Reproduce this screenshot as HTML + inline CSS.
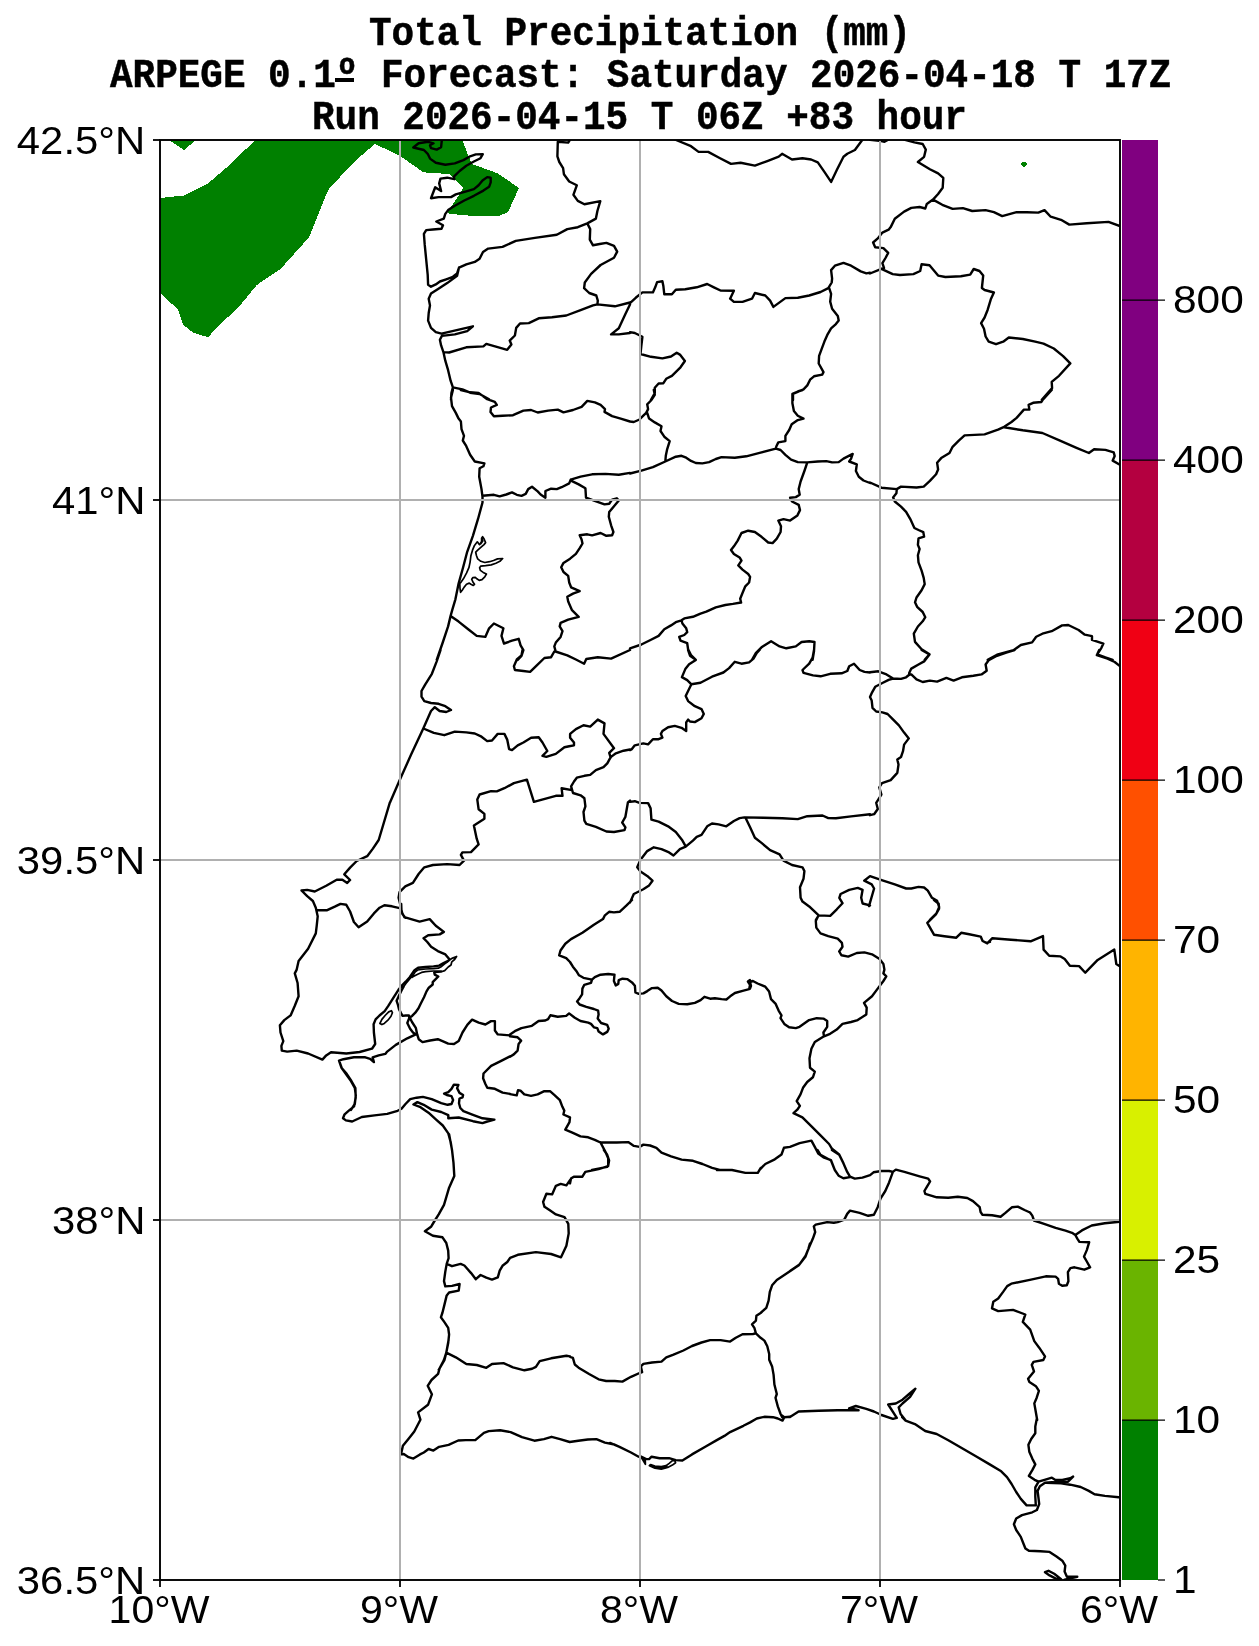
<!DOCTYPE html>
<html><head><meta charset="utf-8"><title>Total Precipitation (mm)</title>
<style>
html,body{margin:0;padding:0;background:#fff;}
body{width:1259px;height:1646px;position:relative;overflow:hidden;font-family:"Liberation Sans",sans-serif;color:#000;}
svg{position:absolute;left:0;top:0;}
.t{-webkit-text-stroke:0.45px #000;will-change:transform;position:absolute;white-space:nowrap;font-family:"Liberation Mono",monospace;font-weight:bold;transform-origin:0 0;line-height:1;}
.l{will-change:transform;position:absolute;white-space:nowrap;font-family:"Liberation Sans",sans-serif;transform-origin:0 0;line-height:1;}
</style></head><body>
<svg width="1259" height="1646" viewBox="0 0 1259 1646">
<defs><clipPath id="c"><rect x="160" y="140" width="960" height="1440"/></clipPath></defs>
<g clip-path="url(#c)">
<path d="M169.0,140.0 L184.0,150.0 L196.0,140.0Z M160.0,198.0 L184.0,195.5 L208.5,183.0 L226.0,168.0 L255.5,140.0 L462.4,140.0 L468.0,155.0 L472.0,164.0 L498.0,173.5 L519.0,188.0 L508.0,212.0 L498.7,216.0 L481.5,216.2 L462.4,215.2 L447.0,213.3 L463.4,188.0 L455.0,180.0 L449.0,174.0 L423.4,172.3 L399.5,155.5 L375.0,144.0 L358.4,158.0 L347.0,169.4 L329.0,189.0 L325.4,196.6 L309.0,237.3 L281.0,268.5 L256.8,285.0 L239.0,306.7 L220.0,324.5 L208.0,337.2 L193.0,332.6 L183.0,324.5 L178.0,309.7 L160.0,292.7Z M1020.5,164.0 L1022.0,162.5 L1023.5,161.5 L1025.5,162.0 L1027.5,164.0 L1025.5,166.0 L1023.5,167.0 L1022.0,166.0Z" fill="#008000" stroke="none" shape-rendering="crispEdges"/>
<path d="M441.9,139.5 L441.1,147.2 L436.7,149.6 L431.0,148.1 L430.0,145.3 L433.5,143.3 L428.1,141.8 L418.6,143.3 L413.3,147.5 L423.9,150.0 L427.7,153.8 L430.0,158.6 L435.8,162.8 L445.3,164.7 L454.8,163.4 L463.4,160.1 L470.1,156.3 L475.8,154.4 L482.8,154.2 L480.5,158.2 L473.9,161.5 L466.3,165.8 L459.6,171.0 L453.9,176.7 L454.4,179.2 L447.2,177.7 L440.5,178.6 L439.2,183.4 L441.1,191.0 L435.2,187.2 L431.0,198.2 L438.6,197.1 L451.0,197.1 L455.8,194.4 L466.3,191.4 L473.9,189.1 L478.6,185.3 L482.5,180.5 L487.2,177.1 L490.7,177.7 L490.7,182.4 L489.1,186.8 L483.4,190.6 L473.9,195.8 L464.3,200.5 L454.8,205.7 L448.1,210.1 L445.3,213.9 L443.8,218.6 L436.3,221.5 L443.0,225.3 L441.5,228.7 L432.9,229.5 L426.2,230.1 L423.9,233.9 L424.7,244.4 L426.2,259.6 L427.7,274.9 L428.1,284.8 L431.0,286.7 L435.8,284.4 L439.9,281.5 L446.2,279.3 L452.9,276.8 L457.1,273.4 L459.0,267.6 M459.0,267.6 L466.3,264.4 L474.8,261.9 L479.6,258.7 L483.0,252.0 L488.2,248.6 L502.5,246.9 L515.8,240.9 L534.9,237.9 L556.8,234.8 L567.3,229.1 L577.8,227.2 L587.3,223.4 L595.9,218.6 L597.4,211.0 L600.3,201.1 L584.4,204.3 L577.8,200.9 L573.4,194.8 L576.8,185.3 L569.2,181.5 L563.9,174.2 L563.1,168.1 L559.3,162.0 L557.4,156.3 L557.8,141.8 L568.2,142.6 L570.1,139.5 M459.0,267.6 L457.1,275.8 L447.2,283.1 L437.7,289.2 L431.0,293.6 L428.7,298.7 L430.0,305.4 L428.7,313.0 L428.1,320.6 L431.0,327.9 L435.8,332.1 L441.5,333.6 L456.7,330.2 L472.9,326.3 L467.2,331.1 L454.8,334.4 L441.9,335.9 L439.9,339.7 L441.1,345.4 L443.4,352.1 L445.3,360.7 L448.1,370.2 L450.6,380.7 L452.9,387.3 L451.4,393.1 L451.0,399.9 M587.3,223.4 L590.2,229.1 L589.8,239.6 L593.0,245.3 L599.7,244.0 L606.4,242.9 L614.0,245.9 L617.2,251.6 L614.0,257.7 L600.6,265.0 L591.1,273.9 L584.8,282.5 L584.1,288.2 L589.2,293.0 L596.3,295.5 L597.8,300.6 L597.4,304.4 M597.4,304.4 L593.0,305.4 L580.6,310.1 L566.3,315.5 L552.0,317.2 L538.7,318.3 L528.8,323.1 L520.0,323.5 L516.2,327.9 L514.9,335.5 L509.7,340.6 L511.4,344.5 L507.2,349.8 L496.8,346.9 L486.3,343.9 L483.4,346.4 L466.3,347.3 L449.1,352.5 L443.4,352.1 M597.4,304.4 L614.9,306.3 L630.0,302.5 M452.9,387.3 L462.4,389.3 L470.1,392.7 L479.6,394.0 L489.1,399.2 M630.0,304.4 L625.4,314.0 L618.8,328.3 L611.1,334.4 L618.8,334.4 L630.0,333.0 M674.8,139.5 L691.0,146.2 L698.6,151.9 L708.2,151.9 L719.6,158.0 L731.0,163.9 L740.6,162.8 L754.9,165.6 L767.3,161.1 L778.7,156.7 L782.1,153.8 L792.0,159.5 L802.5,158.2 L811.1,159.5 L817.8,162.4 L824.4,171.9 L831.1,181.9 L836.8,170.0 L843.5,156.7 L847.3,153.8 L854.9,150.0 L862.6,139.5 M630.0,303.1 L635.7,297.8 L642.4,292.4 L652.9,292.4 L655.2,287.3 L657.1,282.1 L662.4,281.2 L663.4,286.3 L664.3,294.3 L671.9,294.3 L675.8,289.7 L685.3,289.2 L696.7,287.3 L707.2,284.0 L713.9,287.3 L720.5,290.5 L733.9,290.7 L730.1,298.7 L733.9,301.9 L742.5,301.9 L752.0,298.7 L754.9,293.0 L765.3,295.5 L770.1,300.6 L773.4,306.9 L785.4,298.1 L797.8,297.8 L809.2,295.5 L820.6,292.0 L828.3,288.2 L831.7,282.5 L832.1,278.7 L831.1,270.1 L834.9,265.7 L843.5,262.9 L851.1,265.7 L860.7,271.4 L866.4,273.4 L870.0,272.6 M829.2,288.2 L831.1,293.9 L830.2,301.6 L832.1,308.8 L837.8,315.9 L838.7,320.6 L835.9,324.1 L831.1,328.3 L827.3,334.9 L824.4,341.6 L821.6,349.2 L819.1,355.9 L818.7,363.5 L823.5,372.1 L822.2,374.6 L814.0,376.3 L810.1,379.7 L807.3,385.4 L803.5,389.3 L793.0,394.0 L793.0,399.9 M630.0,332.1 L634.8,333.0 L642.4,336.8 L641.4,345.4 L640.5,354.0 L651.0,356.8 L662.4,358.4 L671.0,356.5 L676.7,352.7 L679.9,354.6 L684.9,361.0 L680.5,367.3 L671.9,375.9 L666.2,378.8 L663.4,383.2 L658.6,383.5 L654.8,387.7 L654.8,393.1 L651.0,399.9 M870.0,139.9 L879.3,140.7 L884.5,141.8 L888.6,139.5 M904.1,139.5 L914.4,142.4 L922.7,144.0 L925.8,149.6 L924.1,156.8 L917.9,162.0 L929.9,169.2 L938.1,173.4 L943.3,177.9 L942.7,187.8 L938.1,194.0 L933.0,199.6 L942.3,204.8 L952.6,208.9 L962.9,208.1 L972.2,211.0 L985.6,210.1 L993.9,212.2 L1002.2,216.1 L1016.6,212.2 L1026.9,212.2 L1038.3,212.6 L1044.5,210.1 L1050.7,216.7 L1061.0,219.8 L1069.3,224.6 L1086.8,223.3 L1108.5,221.9 L1119.9,226.0 M933.0,199.6 L926.8,203.9 L925.3,208.5 L919.6,207.0 L911.3,207.9 L904.1,211.6 L894.8,218.8 L890.7,227.1 L888.6,229.7 L882.4,232.6 L877.8,238.4 L873.1,242.5 L875.2,247.3 L883.4,248.1 L888.2,252.9 L885.5,258.0 L882.4,263.2 L884.0,268.0 L881.4,268.8 L870.0,273.5 M881.4,268.8 L892.7,274.1 L899.9,275.0 L913.4,274.1 L920.2,271.0 L921.6,264.2 L929.5,265.3 L938.1,275.6 L945.4,277.0 L960.9,276.2 L970.2,274.6 L973.7,269.0 L979.5,271.0 L983.2,275.6 L981.9,288.0 L984.6,290.0 L993.9,292.5 L990.8,299.3 L987.7,309.7 L984.6,317.5 L981.1,323.1 L984.0,328.7 L985.6,336.5 L988.7,341.7 L996.0,344.2 L1003.2,341.7 L1008.8,337.5 L1022.8,339.0 L1035.2,341.7 L1043.5,343.7 L1053.8,348.5 L1063.1,356.1 L1070.3,363.4 L1059.0,375.8 L1051.7,381.9 L1052.1,388.1 L1041.8,399.9 M452.9,390.0 L451.0,397.6 L452.0,406.2 L455.8,412.9 L458.6,418.6 L460.9,421.5 L461.5,429.1 L464.0,435.8 L462.8,440.5 L466.3,446.2 L470.1,454.8 L474.8,461.5 L484.4,463.4 L483.4,466.3 L479.6,468.2 L479.2,476.7 L481.5,489.1 L482.5,496.8 L482.5,502.5 L478.1,518.7 L472.9,535.8 L467.2,551.8 L463.0,567.7 L458.6,583.5 L455.4,599.3 L452.5,609.2 L450.6,615.9 L448.1,626.4 L442.4,643.5 L436.7,659.9 M460.9,390.0 L470.1,392.3 L478.6,392.9 L487.2,399.2 L494.8,401.8 L496.8,404.9 L491.0,407.5 L490.5,411.9 L493.9,416.3 L502.5,415.7 L513.0,415.2 L523.4,410.6 L531.1,410.0 L537.7,412.5 L548.2,410.6 L557.8,409.6 L563.5,412.3 L573.0,410.0 L581.6,406.8 L587.3,400.9 L594.9,402.4 L600.6,404.9 L605.0,409.1 L604.5,411.9 L612.1,416.1 L620.7,418.6 L630.0,421.5 M482.5,495.8 L493.9,494.8 L499.6,496.4 L506.3,494.5 L512.0,492.4 L516.8,494.8 L521.5,495.8 L525.7,493.9 L528.2,489.1 L532.0,486.8 L537.7,491.4 L540.6,494.5 L545.4,497.7 L545.4,491.0 L551.1,488.7 L556.8,489.1 L561.6,487.2 L569.2,483.4 L570.7,479.6 L580.6,476.7 L592.1,474.3 L605.4,473.9 L618.8,474.8 L630.0,472.9 M570.7,479.6 L572.0,481.1 L578.7,484.4 L585.4,488.2 L586.0,497.7 L594.0,500.6 L604.5,504.4 L609.2,503.8 L612.1,499.6 L616.8,498.3 L618.8,500.6 L614.0,506.3 L609.2,512.0 L608.8,516.8 L611.1,525.3 L613.4,532.0 L612.1,535.3 L606.4,535.8 L600.6,533.0 L592.1,535.3 L587.3,534.3 L579.7,535.3 L581.6,539.6 L582.5,543.5 L579.7,548.2 L575.9,553.9 L570.1,558.7 L563.5,562.9 L561.2,567.3 L563.5,572.0 L568.2,575.9 L569.2,582.5 L571.1,587.3 L579.7,591.1 L573.0,593.6 L567.3,596.8 L568.2,601.6 L572.0,610.2 L578.7,616.8 L568.2,619.7 L560.6,622.9 L559.7,626.4 L562.5,631.1 L560.6,636.9 L555.8,642.6 L554.3,646.4 L555.5,650.8 M450.6,615.9 L458.6,621.6 L468.2,629.2 L476.7,635.9 L485.3,636.9 L489.1,628.3 L493.9,623.5 L503.4,628.3 L501.5,635.9 L504.0,643.5 L512.0,640.7 L518.7,638.8 L520.6,645.4 L523.4,650.2 L521.5,655.9 L517.7,659.9 M653.8,390.0 L654.8,394.8 L651.0,400.5 L647.2,404.3 L648.1,409.1 L646.2,412.9 L643.3,415.7 L639.5,419.5 L633.8,422.0 L630.0,421.5 M647.2,412.9 L649.1,418.6 L654.8,422.4 L661.5,426.2 L660.5,431.0 L664.3,436.7 L669.7,441.1 L667.2,449.1 L665.8,455.8 L665.3,461.5 M630.0,473.5 L641.4,470.6 L652.9,467.2 L665.3,461.5 L675.8,456.7 L681.5,455.8 L686.2,457.7 L691.0,460.9 L695.8,463.0 L702.4,463.4 L709.1,462.1 L715.8,459.0 L721.5,457.1 L734.8,457.7 L746.3,456.3 L759.6,452.9 L775.8,448.7 L780.6,450.0 L785.4,454.8 L791.1,459.6 L797.8,462.1 L807.3,462.4 L817.8,461.5 L826.3,461.1 L832.1,462.4 L838.7,462.1 L843.5,458.6 L852.7,453.9 L851.1,458.6 L849.2,461.5 L856.8,464.3 L855.9,471.0 L858.8,476.7 L863.5,480.5 L870.0,483.0 M775.8,448.7 L776.4,446.2 L778.3,442.4 L785.4,441.1 L785.4,435.8 L789.2,430.0 L791.7,424.3 L797.8,420.1 L803.5,418.6 L797.8,415.7 L793.9,411.0 L792.4,403.3 L792.4,393.8 L797.8,391.5 L802.5,390.0 M807.3,462.4 L804.4,471.0 L800.6,481.5 L798.7,489.1 L799.7,494.8 L795.8,497.1 L790.1,497.7 L792.0,501.5 L798.7,504.9 L800.0,510.1 L797.4,515.4 L790.1,520.6 L783.5,519.2 L778.3,520.6 L781.0,526.3 L780.6,532.0 L776.8,538.7 L772.6,543.1 L768.2,542.5 L761.5,536.8 L754.9,532.0 L748.2,530.7 L741.5,533.0 L737.7,540.6 L733.9,546.3 L731.0,550.1 L733.9,553.9 L739.6,557.4 L741.5,560.6 L738.3,565.4 L742.5,569.6 L748.2,574.0 L750.1,576.8 L749.1,582.5 L745.3,586.3 L742.5,593.0 L740.2,598.7 L741.1,602.5 L732.9,603.9 L725.3,605.0 L715.8,607.3 L706.3,611.7 L700.5,613.6 L692.9,616.8 L684.3,618.4 L681.5,620.3 L675.8,622.2 L671.0,625.4 L664.3,629.2 L658.6,635.9 L651.0,639.7 L641.4,644.5 L630.0,648.3 M681.5,620.3 L682.4,623.5 L686.2,628.3 L687.2,632.1 L684.3,635.0 L679.2,636.9 L680.5,640.7 L687.2,643.2 L688.1,649.3 L691.0,655.0 L695.8,659.9 M752.0,659.9 L755.8,653.1 L761.5,647.3 L771.1,641.2 L779.6,646.4 L786.3,648.3 L795.8,646.4 L801.6,642.0 L809.2,641.2 L814.5,642.0 L814.0,651.2 L812.6,659.9 M1051.7,390.0 L1042.4,400.3 L1041.4,402.0 L1033.1,402.8 L1028.6,404.9 L1029.4,409.6 L1023.9,409.6 L1016.6,417.9 L1011.5,422.0 L1004.2,426.8 L998.0,429.7 L984.6,434.4 L964.6,435.4 L958.8,440.6 L952.6,446.8 L949.5,453.0 L941.2,458.1 L937.1,462.7 L938.1,469.5 L936.1,474.3 L929.9,480.9 L923.7,486.6 L916.5,487.5 L901.0,486.6 L896.8,489.1 L881.4,487.7 L870.0,482.5 M1004.2,427.2 L1022.8,430.3 L1042.4,433.0 L1060.0,440.6 L1076.5,447.8 L1088.9,453.0 L1094.1,449.3 L1105.4,449.9 L1113.7,452.4 L1114.7,456.1 L1112.7,460.6 L1119.9,464.8 M987.7,659.9 L997.0,654.7 L1013.5,650.2 L1020.8,645.0 L1032.1,642.4 L1036.2,636.8 L1042.4,633.7 L1051.7,631.2 L1062.1,625.4 L1068.3,625.0 L1078.6,630.0 L1084.8,634.7 L1092.0,636.2 L1092.0,639.9 L1103.4,643.6 L1101.3,648.1 L1097.2,654.3 L1105.4,657.4 L1112.7,659.9 M896.8,489.1 L896.4,493.3 L893.1,497.4 L894.8,501.5 L901.0,506.7 L906.1,511.8 L910.3,519.1 L914.4,528.0 L918.5,530.0 L923.3,532.1 L924.1,536.6 L918.5,538.3 L917.9,544.9 L919.6,549.0 L917.9,555.2 L918.5,562.4 L921.6,570.7 L923.7,577.9 L924.7,584.1 L921.6,590.3 L916.5,597.5 L915.0,602.3 L917.1,606.8 L922.7,612.0 L925.3,617.2 L922.7,621.3 L917.9,626.5 L913.8,633.7 L915.0,641.9 L921.6,649.2 L929.5,654.3 L924.7,659.9 M440.5,650.0 L436.7,661.4 L431.9,673.8 L425.3,684.3 L421.5,691.0 L421.5,696.7 L424.3,701.1 L431.0,703.0 L438.6,703.8 L445.3,706.2 L451.0,710.0 L446.2,712.0 L439.6,711.0 L434.8,707.2 L431.0,711.0 L423.4,728.2 L411.0,754.8 L399.5,780.6 L390.0,802.5 M423.4,728.5 L433.8,732.9 L444.3,735.2 L454.8,731.6 L466.3,732.4 L474.8,733.5 L481.5,736.7 L487.2,741.1 L492.0,740.5 L497.7,733.9 L504.4,733.9 L507.2,739.6 L509.1,749.1 L512.0,750.1 L517.7,745.3 L523.4,742.5 L531.1,737.7 L538.7,737.3 L542.5,742.5 L547.3,751.0 L542.5,755.8 L546.3,756.8 L555.8,753.9 L564.4,747.2 L569.2,746.3 L574.0,745.3 L574.0,742.5 L570.1,737.7 L570.1,733.9 L575.9,729.1 L583.5,725.3 L590.2,726.6 L597.8,719.6 L604.5,723.4 L603.5,733.9 L614.0,748.2 L609.2,752.9 L610.7,757.7 M630.0,749.5 L623.5,750.7 L615.9,753.3 L610.7,757.1 L607.3,763.4 L603.5,767.2 L595.9,770.1 L590.2,774.9 L584.4,775.8 L576.8,777.7 L574.0,781.5 L571.1,786.3 L573.0,793.0 L580.6,795.3 L584.4,798.3 L585.4,806.3 L583.5,812.0 L584.4,820.6 L586.3,823.9 L595.9,826.9 L606.4,831.5 L614.0,832.0 L624.5,830.1 L625.4,827.3 L622.2,822.5 L625.4,816.8 L627.9,802.5 L630.0,800.6 M572.0,790.1 L561.6,788.2 L562.5,795.8 L555.8,795.8 L533.9,801.9 L526.9,779.6 L513.9,783.1 L504.4,788.2 L496.8,791.4 L491.0,791.1 L479.6,794.5 L477.3,799.6 L478.6,809.2 L484.4,813.9 L484.4,818.7 L473.9,825.4 L476.7,838.7 L478.6,844.4 L471.0,852.1 L462.4,852.4 L460.9,854.9 L464.0,860.6 L459.6,865.0 L447.2,864.1 L432.9,865.0 L424.3,867.3 L418.6,874.0 L412.9,882.9 L405.3,886.4 L399.5,892.1 L398.6,897.8 L400.5,905.4 L402.4,914.0 L405.3,917.8 M522.5,650.0 L521.5,655.3 L516.8,659.5 L513.9,666.2 L514.9,670.0 L523.4,671.0 L530.1,671.9 L536.8,665.3 L544.4,658.0 L551.1,657.2 L554.3,651.5 M555.5,651.5 L567.3,655.3 L575.9,659.5 L584.1,663.7 L586.3,659.0 L597.8,657.2 L611.1,658.6 L630.0,650.0 M688.1,650.0 L690.0,655.7 L695.8,659.9 L689.1,664.3 L685.3,669.1 L681.9,677.1 L687.2,680.1 L691.4,684.3 M691.4,684.3 L700.5,682.8 L712.0,676.7 L723.4,672.5 L729.1,668.1 L734.8,661.8 L741.5,663.7 L749.1,662.4 L753.5,658.6 L756.8,652.9 L759.6,650.0 M691.4,684.3 L688.1,691.0 L685.7,696.1 L688.1,701.1 L694.8,706.2 L701.5,709.1 L703.8,713.9 L701.5,718.2 L694.8,722.1 L690.0,721.5 L688.1,719.6 L686.2,722.4 L686.2,731.0 L681.5,727.8 L674.8,725.9 L668.1,727.2 L662.4,731.0 L660.9,733.9 L662.4,737.7 L658.6,739.2 L652.9,739.2 L648.1,744.4 L643.3,743.4 L634.8,745.3 L631.9,749.1 L630.0,750.1 M814.0,650.0 L812.6,657.6 L809.2,663.7 L802.5,670.0 L803.5,672.9 L813.0,675.4 L820.6,676.3 L830.2,673.8 L841.6,673.3 L847.3,671.0 L849.2,666.2 L854.0,663.7 L859.7,670.0 L864.5,671.9 L870.0,672.5 M630.0,801.9 L634.8,801.2 L639.5,802.9 L648.1,803.1 L650.6,808.2 L651.4,819.7 L658.6,821.6 L668.1,826.3 L675.8,832.0 L681.9,839.7 L685.7,846.3 M630.0,902.6 L633.8,894.0 L643.3,889.2 L649.1,885.4 L652.5,880.7 L647.2,875.9 L640.5,871.5 L637.2,867.3 L640.5,859.7 L647.2,851.1 L653.8,847.3 L661.5,849.2 L669.1,852.4 L673.5,855.5 L679.9,849.2 L685.7,846.7 L692.9,840.6 L696.7,836.8 L701.5,834.9 L707.2,826.3 L712.0,823.5 L718.6,824.4 L726.3,826.3 L733.9,821.0 L739.6,818.1 L744.4,817.4 L763.4,817.8 L782.5,818.3 L797.8,819.1 L807.3,816.2 L822.5,815.5 L828.3,818.1 L835.9,818.3 L851.1,816.4 L870.0,814.3 M745.5,817.8 L750.1,827.3 L754.9,837.8 L761.5,842.9 L770.1,850.2 L779.6,854.4 L783.5,860.6 L792.0,865.0 L802.5,867.3 L804.4,871.1 L803.5,878.8 L800.0,887.3 L800.6,897.8 L802.5,901.6 L809.2,906.4 L818.7,915.4 L815.9,919.9 M818.7,915.4 L830.2,915.9 L836.8,909.3 L842.5,903.2 L839.3,897.8 L840.6,894.0 L849.2,889.8 L857.8,887.9 L862.6,889.8 L861.2,897.8 L862.6,903.5 L870.0,905.4 M921.6,650.0 L929.5,654.5 L924.1,661.4 L918.5,664.5 L911.3,668.6 L909.2,673.1 L909.2,674.8 M870.0,672.3 L878.3,671.3 L886.5,674.4 L893.1,678.5 L901.0,678.9 L906.1,677.3 L909.2,674.8 M893.1,678.5 L888.6,679.9 L882.4,683.0 L875.2,686.8 L872.1,692.3 L870.0,697.1 L871.7,700.6 L872.5,707.8 L876.2,711.5 L882.4,712.4 L887.6,714.0 L892.7,719.2 L898.9,725.4 L904.1,732.6 L908.8,738.4 L904.1,744.6 L903.0,751.2 L901.0,757.0 L897.3,759.5 L898.5,764.6 L897.3,772.9 L890.7,780.1 L882.0,783.2 L879.3,787.3 L881.4,794.6 L876.2,802.8 L877.8,809.0 L874.1,814.2 L870.0,815.2 M909.2,674.8 L911.3,674.4 L916.5,679.3 L922.7,682.0 L929.9,680.6 L937.1,681.6 L946.4,677.9 L953.6,680.6 L961.9,677.3 L973.3,675.8 L981.5,674.4 L986.7,670.7 L985.6,664.5 L988.7,660.3 L997.0,655.8 L1006.3,652.5 L1014.6,650.0 M1099.2,650.0 L1096.8,655.2 L1107.5,658.7 L1114.7,662.0 L1119.9,666.1 M869.0,906.1 L874.1,888.5 L871.7,884.4 L864.2,880.7 L870.0,876.1 L882.4,880.3 L894.8,884.4 L906.1,888.5 L911.3,888.5 L918.5,886.9 L924.1,887.5 L927.8,890.6 L932.0,897.8 L937.1,900.9 L939.2,907.1 L936.5,913.3 L929.9,919.9 M389.9,802.4 L378.7,840.0 L372.9,848.6 L367.2,856.2 L356.7,861.0 L350.1,867.6 L344.3,874.3 L350.1,880.0 L347.2,882.9 L342.4,879.7 L336.7,879.7 L326.2,885.8 L314.8,891.5 L307.2,889.9 L301.5,890.5 L307.2,896.2 L312.9,901.0 L315.8,907.7 L317.7,916.3 L316.7,925.8 L315.8,933.4 L308.1,948.7 L298.6,961.0 L296.7,969.6 L294.8,973.4 L297.6,983.0 L298.6,996.3 L294.8,1005.8 L290.6,1015.4 L284.3,1020.1 L279.9,1025.3 L280.5,1032.5 L283.3,1041.1 L281.4,1045.9 L281.8,1050.6 L287.2,1051.6 L296.7,1050.6 L308.1,1053.5 L322.4,1059.6 L326.2,1055.4 L331.0,1052.2 L346.3,1053.5 L359.6,1052.0 L372.0,1048.7 L375.2,1044.0 L373.9,1032.5 M409.3,1017.9 L407.3,1023.0 L410.1,1028.7 L413.0,1032.5 L415.8,1034.4 M410.1,1018.2 L412.0,1022.0 L415.8,1027.8 L417.2,1034.4 L418.7,1039.2 L422.5,1042.1 L430.1,1040.5 L437.8,1039.2 L442.5,1041.1 L448.2,1043.6 L454.0,1044.0 L458.7,1041.1 L462.5,1032.5 L467.3,1024.9 L472.1,1019.6 L478.7,1022.6 L485.4,1024.5 L491.1,1021.1 L494.9,1021.1 L494.9,1030.6 L497.8,1034.4 L510.0,1035.4 M401.2,903.9 L401.5,911.5 L404.4,917.2 L411.1,919.1 L419.6,921.6 L429.7,919.1 L435.8,925.8 L443.9,931.9 L439.7,934.4 L428.2,935.3 L423.5,938.2 L427.3,942.0 L431.1,946.8 L437.8,951.1 L445.4,954.4 L449.2,959.1 M316.7,910.2 L327.2,910.2 L334.8,906.7 L340.5,903.9 L346.3,904.8 L350.1,911.5 L353.9,922.0 L358.6,927.3 L367.2,921.6 L373.9,913.4 L379.6,907.7 L384.4,905.2 L392.0,906.3 L399.6,908.2 M415.8,1034.4 L407.3,1038.3 L395.8,1044.9 L387.2,1051.6 L385.3,1053.9 L378.7,1055.4 L372.6,1057.3 L373.9,1062.1 L370.1,1058.8 L365.3,1057.3 L353.9,1057.3 L343.4,1059.2 L339.0,1060.7 L341.5,1067.8 L346.3,1074.5 L351.0,1081.1 L354.8,1087.8 L355.8,1095.4 L354.8,1104.0 L351.0,1109.9 M510.0,1056.4 L500.7,1061.1 L491.1,1065.9 L483.5,1073.5 L483.1,1078.3 L485.4,1084.0 L487.3,1087.8 L494.9,1088.8 L502.6,1092.6 L510.0,1093.9 M632.0,900.0 L626.3,905.7 L619.6,911.8 L613.9,912.4 L609.1,911.8 L604.9,915.3 L603.0,919.1 L593.9,924.8 L582.4,932.8 L571.0,939.1 L565.3,943.8 L560.5,950.5 L559.2,955.3 L566.2,958.1 L570.0,962.0 L572.9,966.7 L576.3,970.9 L579.0,975.3 L583.4,977.8 L592.0,979.7 M592.0,979.7 L594.8,977.2 L600.5,974.7 L608.2,974.0 L614.5,974.7 L613.9,981.0 L615.8,985.4 L618.3,983.9 L618.7,980.1 L622.5,978.7 L627.2,979.1 L632.0,982.4 L634.9,985.8 L635.4,992.5 L638.7,993.8 L643.4,993.4 L647.3,991.1 L652.0,988.1 L657.7,987.7 L661.5,990.5 L666.3,996.3 L672.0,1001.0 L678.7,1003.9 L687.3,1004.3 L694.9,1002.9 L700.6,1000.1 L704.4,996.8 L710.2,998.7 L714.9,998.2 L721.6,999.1 L726.4,999.5 L730.2,996.3 L734.9,993.0 L742.6,990.9 L749.2,989.2 L750.0,984.8 L747.9,981.6 L750.0,980.1 M592.0,979.7 L591.0,982.9 L584.3,984.8 L582.4,988.6 L582.1,994.4 L579.6,998.2 L577.1,1001.4 L579.6,1004.5 L586.3,1006.8 L593.9,1009.0 L598.1,1010.6 L598.6,1014.4 L597.7,1018.6 L601.1,1023.0 L607.2,1024.9 L608.7,1028.7 L607.2,1031.9 L603.0,1034.4 L598.6,1031.5 L597.3,1028.1 L593.9,1027.3 L591.0,1023.9 L588.2,1022.6 L580.5,1021.0 L574.8,1017.8 L569.1,1013.4 L566.2,1015.9 L557.7,1016.7 L550.4,1015.3 L548.1,1019.1 L545.3,1020.5 L538.6,1021.0 L531.9,1025.8 L521.4,1028.1 L514.8,1031.2 L510.0,1034.4 M510.0,1036.3 L517.6,1037.3 L521.1,1040.7 L518.6,1043.9 L517.6,1050.6 L513.8,1054.4 L510.0,1056.7 M510.0,1094.1 L516.7,1095.4 L518.0,1090.2 L520.5,1090.6 L524.3,1094.4 L531.0,1095.8 L537.6,1094.4 L544.3,1091.2 L550.0,1091.2 L554.8,1095.4 L559.9,1100.2 L562.4,1106.8 L564.3,1110.6 L563.4,1114.5 L570.0,1117.3 L569.5,1122.1 L565.3,1129.7 L572.9,1132.9 L580.5,1136.4 L588.2,1137.3 L594.8,1139.8 L600.5,1142.5 M600.5,1142.5 L616.8,1142.5 L628.2,1142.1 L633.9,1145.9 L639.6,1146.9 L643.4,1144.6 L650.1,1145.5 L656.4,1147.8 L661.5,1152.6 L671.1,1156.4 L681.6,1159.6 L693.0,1160.8 L702.5,1164.0 L712.1,1167.8 L719.7,1169.9 M600.5,1142.5 L605.3,1151.6 L608.2,1158.3 L608.2,1165.0 L607.2,1166.9 L592.0,1169.9 M818.6,915.3 L815.8,921.0 L816.3,927.6 L820.5,933.4 L828.2,936.2 L837.7,938.7 L841.9,942.9 L842.5,946.7 L839.2,951.5 L841.5,955.3 L848.2,956.6 L856.8,953.0 L864.4,952.4 L872.0,954.3 L879.6,959.1 L883.4,963.9 L884.4,969.6 L883.4,973.4 L886.3,976.3 L883.4,981.0 L877.7,988.6 L872.0,996.3 L864.0,1002.9 L866.7,1007.7 L866.3,1014.4 L857.7,1020.1 L851.0,1022.0 L842.5,1023.9 L836.7,1029.6 L830.1,1033.8 L824.0,1036.3 M824.0,1036.3 L823.4,1032.5 L827.2,1026.8 L827.2,1021.0 L823.4,1018.6 L816.7,1018.2 L809.1,1020.1 L799.6,1026.8 L795.8,1028.1 L789.1,1027.3 L784.3,1023.9 L780.5,1018.2 L781.5,1015.3 L778.6,1010.6 L775.7,1003.9 L771.0,999.1 L769.1,991.5 L765.3,986.7 L757.6,983.5 L752.9,981.0 L750.0,982.0 L751.0,985.8 L750.0,988.6 M824.0,1036.3 L814.8,1042.0 L811.4,1048.7 L809.5,1058.2 L810.0,1067.8 L814.8,1071.6 L812.9,1077.3 L807.2,1082.0 L803.0,1087.8 L800.5,1094.4 L796.7,1101.1 L799.9,1105.9 L797.3,1109.7 L793.5,1113.1 L802.4,1117.3 L811.0,1125.9 L820.5,1135.4 L829.1,1144.0 L832.0,1148.8 L839.2,1154.5 L843.4,1163.1 L846.3,1169.9 M759.5,1169.9 L765.3,1164.0 L774.8,1159.3 L781.5,1154.5 L783.9,1147.8 L790.0,1146.9 L799.6,1143.1 L811.4,1140.6 L814.8,1146.9 L818.2,1153.5 L823.4,1157.3 L831.0,1160.2 L834.8,1169.9 M934.0,900.0 L938.7,903.8 L939.1,908.6 L935.9,914.3 L927.3,922.9 L934.0,934.7 L944.4,936.2 L956.3,937.7 L961.2,932.8 L969.2,934.3 L980.7,936.6 L982.6,941.0 L986.4,942.9 L990.0,941.9 M987.2,943.4 L992.4,938.2 L1011.0,939.7 L1030.6,941.3 L1043.0,936.1 L1043.6,949.6 L1049.2,955.8 L1060.6,956.4 L1064.7,958.9 L1069.9,965.7 L1079.1,966.1 L1085.3,972.7 L1097.7,959.9 L1114.3,949.6 L1116.3,964.0 L1119.4,966.1 M339.2,1060.8 L341.9,1068.3 L346.7,1073.8 L351.4,1081.0 L355.4,1088.1 L355.7,1097.7 L354.1,1106.4 L349.1,1110.4 L344.6,1114.3 L343.0,1118.3 L345.9,1120.4 L352.2,1121.5 L361.8,1117.0 L374.5,1115.4 L387.2,1113.9 L396.7,1111.2 L401.5,1108.8 L405.5,1104.0 L410.2,1099.2 L416.6,1097.7 L422.9,1096.9 L431.7,1099.2 L441.2,1103.2 L447.6,1104.8 L451.5,1104.0 L453.1,1100.0 L451.5,1096.1 L446.8,1095.0 L444.1,1093.7 L448.3,1092.1 L451.5,1088.9 L453.9,1084.6 L458.4,1084.9 L457.1,1088.1 L459.5,1092.9 L463.1,1095.0 L462.6,1097.3 L459.5,1098.5 L459.0,1103.2 L460.3,1108.0 L463.4,1111.2 L473.0,1114.8 L482.5,1118.3 L494.4,1119.6 L487.3,1121.5 L482.5,1123.1 L473.0,1121.2 L458.7,1117.5 L448.3,1118.3 L448.3,1115.1 L441.2,1112.0 L431.7,1109.6 L423.7,1104.8 L417.4,1102.1 L413.4,1104.5 L420.5,1107.2 L428.5,1112.7 L436.4,1119.9 L442.8,1125.5 L448.3,1133.4 L450.7,1142.1 L452.0,1150.1 M449.1,1134.3 L452.0,1149.9 L453.5,1162.9 L454.3,1175.9 L449.1,1187.7 L446.3,1197.2 L444.0,1204.8 L438.7,1214.4 L433.9,1222.0 L431.0,1226.8 L424.9,1231.2 L432.9,1235.7 L442.5,1237.3 L446.3,1243.0 L448.2,1250.6 L448.6,1258.2 L446.7,1263.9 L445.3,1271.6 L444.0,1281.1 L445.3,1286.4 L452.0,1285.9 L459.6,1284.0 L458.7,1290.6 L449.1,1292.5 L446.7,1295.4 L444.4,1304.9 L442.5,1312.5 L440.9,1317.3 L444.4,1322.1 L448.2,1327.8 L449.1,1334.5 L448.2,1343.1 L446.3,1352.6 L444.4,1360.2 L438.7,1369.9 M446.7,1263.9 L452.0,1266.2 L460.6,1263.9 L464.4,1265.5 L471.1,1273.1 L475.8,1279.2 L480.6,1275.0 L486.3,1277.7 L492.0,1279.6 L497.8,1277.3 L499.7,1270.6 L502.5,1265.8 L507.3,1262.0 L510.1,1257.8 L517.8,1254.8 L535.9,1252.1 L551.1,1254.0 L561.0,1257.3 L566.4,1245.8 L568.7,1233.4 L568.3,1223.9 L564.5,1217.2 L555.9,1214.4 L550.2,1210.6 L544.5,1206.8 L543.1,1202.0 L546.4,1193.8 L552.1,1194.4 L555.9,1185.8 L560.7,1183.9 L566.4,1185.4 L570.0,1180.1 M446.3,1352.6 L455.8,1357.3 L466.3,1364.0 L476.8,1365.0 L486.3,1367.8 L492.0,1364.0 L503.5,1363.1 L513.0,1367.3 L524.4,1370.3 L532.1,1368.8 L535.9,1366.9 L539.7,1361.2 L551.1,1358.3 L566.4,1355.8 L570.0,1356.4 M603.9,1150.0 L607.2,1154.8 L609.1,1160.5 L608.1,1166.2 L598.6,1169.1 L585.3,1171.9 L582.4,1176.7 L573.8,1176.7 L571.0,1178.6 L570.0,1183.4 M716.8,1170.0 L732.0,1170.0 L745.4,1172.9 L757.8,1172.9 L760.6,1168.1 M570.0,1356.8 L572.9,1357.8 L574.8,1364.5 L578.6,1367.7 L589.1,1374.0 L598.6,1379.3 L606.2,1381.0 L614.8,1381.0 L622.4,1381.6 L631.0,1376.8 L639.6,1373.0 L642.1,1372.1 L640.9,1366.4 L643.4,1363.9 L652.0,1362.5 L661.5,1361.6 L666.3,1357.4 L672.9,1354.9 L683.4,1350.5 L692.0,1346.0 L701.5,1342.5 L710.1,1340.1 L720.6,1340.1 L730.1,1341.6 L735.8,1337.8 L742.5,1334.3 L753.0,1334.0 L755.9,1333.4 M755.9,1333.4 L754.5,1328.2 L752.0,1324.4 L755.9,1320.6 L756.4,1315.8 L760.6,1313.0 L766.3,1307.8 L768.6,1300.6 L769.8,1292.0 L772.1,1285.3 L776.8,1280.0 L787.3,1273.0 L798.8,1265.3 L805.4,1256.8 L808.3,1249.1 L810.0,1243.4 M755.9,1333.4 L760.6,1337.8 L764.4,1340.6 L767.3,1346.3 L769.2,1354.0 L769.2,1359.7 L772.1,1366.4 L773.6,1374.9 L774.4,1384.5 L776.8,1394.0 L775.5,1397.8 L777.8,1406.4 L780.6,1414.0 L782.2,1417.3 M817.6,1150.0 L820.5,1154.8 L831.0,1160.5 L834.8,1170.0 L838.6,1175.7 L843.4,1178.2 L850.0,1177.1 M831.9,1150.0 L839.2,1154.8 L843.4,1163.3 L847.2,1171.9 L850.0,1176.7 L854.8,1178.6 L862.4,1177.6 L870.1,1175.2 L873.5,1172.3 L881.5,1171.0 L889.1,1171.0 L892.9,1171.9 M892.9,1171.9 L895.8,1169.6 L904.4,1171.9 L919.6,1176.3 L928.2,1178.6 L930.1,1181.5 L927.3,1186.2 L924.4,1191.0 L925.3,1193.8 L936.8,1197.3 L948.2,1197.7 L957.8,1196.7 L967.3,1198.0 L973.0,1201.1 L979.7,1207.2 L980.6,1212.0 L982.5,1214.8 L992.1,1215.2 L1000.6,1216.7 L1005.4,1212.9 L1012.1,1207.2 L1017.8,1206.6 L1024.5,1210.0 L1030.0,1212.5 M892.9,1171.9 L889.1,1182.4 L885.3,1191.0 L880.5,1198.6 L877.7,1207.2 L873.9,1214.8 L868.2,1215.8 L859.6,1212.9 L850.0,1210.6 L847.2,1213.9 L844.3,1219.6 L837.7,1222.1 L833.8,1222.8 L827.2,1222.1 L815.7,1224.7 L813.8,1226.3 L815.2,1232.0 L812.9,1238.6 L809.1,1247.2 L805.6,1255.8 L799.5,1264.4 L790.0,1271.0 M790.0,1416.9 L798.6,1411.5 L818.6,1410.8 L837.7,1410.2 L858.6,1410.2 L853.9,1409.3 L849.1,1408.3 L855.8,1406.0 L866.3,1408.9 L873.9,1411.5 L881.5,1415.0 L892.9,1418.8 L896.8,1417.8 L888.2,1404.5 L895.8,1403.5 L902.5,1399.7 L909.1,1394.0 L915.4,1388.7 L910.1,1396.9 L902.5,1403.5 L898.7,1407.3 L900.6,1414.0 L905.3,1419.9 M1030.0,1212.5 L1032.3,1215.6 L1034.0,1220.5 L1044.1,1223.8 L1055.6,1227.9 L1065.5,1230.7 L1072.0,1232.8 L1075.3,1235.0 M1075.3,1235.0 L1081.9,1230.4 L1091.7,1225.5 L1104.8,1223.3 L1119.6,1221.7 M1075.3,1235.0 L1077.3,1238.6 L1079.4,1241.9 L1089.2,1242.2 L1086.8,1250.1 L1084.0,1256.6 L1086.8,1261.5 L1090.1,1267.3 L1084.3,1269.7 L1074.5,1267.3 L1070.4,1268.1 L1067.9,1272.2 L1068.4,1281.2 L1066.8,1285.3 L1062.2,1285.8 L1058.9,1283.7 L1058.1,1278.8 L1055.6,1276.6 L1045.8,1276.3 L1031.0,1279.6 L1011.3,1283.7 L1007.2,1286.1 L1003.1,1291.9 L998.2,1298.5 L993.3,1301.7 L992.0,1308.3 L998.2,1311.1 L1013.0,1309.9 L1025.3,1314.5 L1022.8,1321.9 L1030.2,1329.6 L1034.3,1341.1 L1039.2,1347.7 L1045.0,1356.4 L1043.3,1360.0 L1033.5,1361.9 L1031.8,1364.9 L1034.0,1371.4 L1028.1,1378.8 L1029.4,1382.1 L1035.9,1386.2 L1038.9,1390.8 L1036.7,1397.7 L1034.3,1403.4 L1035.9,1412.5 L1037.2,1420.0 M448.6,1340.0 L446.3,1352.6 L443.9,1360.0 L439.5,1368.6 L438.1,1373.9 L431.5,1380.0 L427.7,1385.8 L431.9,1394.3 L428.0,1404.8 L418.1,1412.4 L420.4,1419.7 L414.3,1431.5 L408.6,1438.7 L402.9,1445.8 L401.0,1454.4 L403.8,1454.0 L408.6,1457.2 L413.4,1458.6 L420.0,1454.4 L423.8,1452.5 L428.6,1449.0 L433.4,1450.6 L439.1,1446.8 L448.6,1444.8 L458.2,1440.5 L465.8,1440.1 L475.3,1440.1 L483.9,1432.8 L488.7,1431.1 L500.1,1430.2 L510.6,1432.1 L522.0,1437.2 L534.4,1440.7 L543.9,1439.1 L551.6,1436.8 L560.1,1439.1 L569.7,1442.0 L578.3,1440.7 L587.8,1439.5 L596.4,1439.1 L604.9,1442.6 L614.5,1444.5 L620.0,1447.1 M610.0,1442.9 L619.5,1446.8 L631.0,1452.5 L638.6,1456.7 L640.5,1456.3 L646.2,1459.1 L649.1,1459.1 L651.6,1456.7 L659.6,1458.2 L669.1,1458.2 L675.8,1460.1 L682.4,1460.5 L692.0,1454.4 L705.3,1446.8 L716.8,1440.1 L724.4,1435.9 L730.1,1432.1 L743.4,1425.8 L750.1,1422.4 L756.8,1418.5 L764.4,1416.8 L773.0,1417.2 L777.8,1418.5 L782.5,1420.6 L784.4,1417.2 L781.6,1415.3 M781.6,1415.3 L784.4,1417.2 L790.0,1416.8 M902.2,1417.2 L905.6,1420.6 L914.9,1424.1 L925.2,1431.0 L936.7,1434.0 L948.3,1440.2 L962.1,1448.3 L975.9,1456.3 L989.7,1464.4 L1001.2,1471.3 L1007.0,1477.1 L1011.6,1484.0 L1016.2,1492.0 L1020.8,1498.9 L1026.6,1505.4 L1035.8,1505.4 L1035.3,1496.6 L1035.3,1487.4 L1038.6,1481.7 L1046.2,1479.4 L1051.9,1477.7 L1055.4,1480.0 L1062.3,1480.0 L1070.3,1478.2 L1073.1,1476.6 L1068.0,1481.7 L1061.1,1482.4 L1051.9,1482.1 L1045.0,1482.8 L1039.9,1486.3 L1037.6,1490.9 L1038.6,1498.9 L1039.2,1504.0 L1036.9,1510.0 L1032.3,1512.3 L1022.0,1515.1 L1016.2,1518.5 L1013.9,1524.3 L1016.2,1530.0 L1020.8,1536.9 L1023.1,1542.7 L1025.4,1548.5 L1028.9,1550.8 L1040.4,1551.2 L1049.6,1551.9 L1056.5,1556.5 L1062.3,1560.7 L1065.3,1565.7 L1064.6,1571.5 L1066.9,1576.8 L1077.3,1576.8 L1070.3,1578.4 L1064.6,1579.6 M1036.9,1418.3 L1035.3,1426.4 L1035.3,1433.3 L1031.2,1439.0 L1028.4,1444.8 L1029.3,1451.7 L1032.3,1458.6 L1035.3,1464.4 L1032.3,1470.1 L1028.9,1475.9 L1034.6,1479.8 L1038.6,1481.7 M1046.2,1482.8 L1061.1,1483.3 L1070.3,1484.7 L1080.7,1487.0 L1088.8,1490.9 L1094.5,1494.3 L1104.9,1495.9 L1118.7,1497.3 M1045.0,1572.2 L1048.5,1570.8 L1054.2,1573.8 L1061.1,1579.1 L1055.4,1578.4 L1049.6,1575.4 L1045.0,1572.2 M373.9,1032.5 L373.6,1024.2 L375.6,1019.4 L379.5,1015.5 L384.7,1011.1 L388.3,1005.9 L393.0,998.4 L398.6,989.6 L401.8,985.7 L405.7,981.7 L409.7,977.3 L412.1,973.8 L414.5,970.2 L418.1,967.8 L425.6,967.0 L433.5,966.4 L439.1,965.6 L443.1,963.4 L448.2,960.7 L449.4,959.7 M434.3,972.6 L434.7,974.6 L438.3,976.5 L435.9,978.9 L432.7,982.1 L432.7,984.5 L428.8,987.7 L426.4,991.6 L424.0,997.2 L420.8,1003.5 L418.5,1008.3 L415.3,1012.7 L412.1,1015.9 L409.3,1017.8 M403.4,986.9 L401.4,990.8 L398.6,996.4 L396.6,1000.8 L397.8,1004.3 L399.0,1009.1 L401.0,1013.1 L402.6,1015.9 L405.7,1015.5 L408.9,1015.5 L409.3,1017.8" fill="none" stroke="#000" stroke-width="2.4" stroke-linejoin="round" stroke-linecap="round"/>
<path d="M460.6,582.7 L463.4,578.8 L466.5,573.2 L468.9,567.7 L470.1,562.1 L470.9,555.7 L472.5,550.2 L474.5,545.4 L477.3,541.8 L478.8,543.8 L479.6,544.6 L481.6,541.4 L481.6,538.3 L482.6,536.7 L484.0,538.7 L485.6,542.6 L484.0,544.6 L480.8,547.4 L477.7,550.2 L475.7,552.2 L476.5,555.7 L477.7,558.9 L480.8,561.3 L484.8,562.5 L489.6,561.7 L493.5,560.5 L497.5,558.9 L502.7,558.5 L499.9,561.3 L495.9,563.3 L491.2,564.9 L485.6,565.7 L480.8,566.1 L479.6,567.7 L480.4,570.4 L483.2,572.4 L486.4,574.0 L484.8,576.8 L482.0,579.6 L479.2,580.4 L476.9,578.8 L475.3,577.3 L472.9,577.6 L471.7,579.2 L472.9,582.0 L474.5,584.3 L473.3,585.5 L470.9,584.3 L469.3,583.1 L466.5,584.3 L464.2,587.1 L462.2,590.3 L460.6,592.3 L460.0,588.3 L459.8,583.5 L460.6,582.7 M482.0,538.7 L482.8,541.0 L480.8,543.8 M448.2,960.7 L452.6,958.1 L456.6,956.5 L454.6,959.5 L451.8,961.8 L451.0,965.0 L448.2,967.0 L444.7,970.6 L441.5,971.8 L437.5,972.2 L434.3,972.6 M448.6,961.0 L444.7,963.8 L440.7,967.0 L438.3,968.2 L433.5,968.6 L425.6,969.0 L421.6,969.4 L417.7,970.0 L415.3,971.8 L413.3,974.9 L409.7,978.9 L406.1,983.3 L403.4,986.9 M412.1,977.3 L413.3,976.5 L417.7,974.2 L421.6,972.4 L425.6,971.6 L433.5,971.0 L437.5,971.0 L441.5,971.0 M379.9,1023.4 L381.9,1019.4 L385.1,1015.5 L388.7,1011.9 L391.4,1010.7 L392.4,1012.7 L391.0,1016.3 L387.9,1020.2 L384.3,1023.4 L381.9,1024.6 L379.9,1023.4 M649.4,1465.7 L654.9,1468.1 L661.3,1469.1 L667.7,1467.5 L672.4,1465.1 L675.6,1462.7 L674.8,1460.6 L672.4,1460.6 L669.2,1463.4 L666.1,1465.7 L661.3,1466.7 L654.9,1466.1 L650.6,1464.6 L649.4,1465.7 M640.8,1456.6 L645.4,1464.3 L645.3,1460.6 L640.8,1456.6 M649.8,1465.2 L654.9,1467.2 L661.3,1467.9 L666.9,1466.6" fill="none" stroke="#000" stroke-width="1.7" stroke-linejoin="round" stroke-linecap="round"/>
<path d="M400,140 V1580" stroke="#b0b0b0" stroke-width="2"/><path d="M640,140 V1580" stroke="#b0b0b0" stroke-width="2"/><path d="M880,140 V1580" stroke="#b0b0b0" stroke-width="2"/><path d="M160,500 H1120" stroke="#b0b0b0" stroke-width="2"/><path d="M160,860 H1120" stroke="#b0b0b0" stroke-width="2"/><path d="M160,1220 H1120" stroke="#b0b0b0" stroke-width="2"/>
</g>
<rect x="1122" y="140" width="36" height="160" fill="#800080"/><rect x="1122" y="300" width="36" height="160" fill="#800080"/><rect x="1122" y="460" width="36" height="160" fill="#b40040"/><rect x="1122" y="620" width="36" height="160" fill="#f00014"/><rect x="1122" y="780" width="36" height="160" fill="#ff5000"/><rect x="1122" y="940" width="36" height="160" fill="#ffb400"/><rect x="1122" y="1100" width="36" height="160" fill="#d8f000"/><rect x="1122" y="1260" width="36" height="160" fill="#6ab400"/><rect x="1122" y="1420" width="36" height="160" fill="#008000"/><path d="M1122,300.2 H1165" stroke="#000" stroke-width="1.3"/><path d="M1122,460.2 H1165" stroke="#000" stroke-width="1.3"/><path d="M1122,620.2 H1165" stroke="#000" stroke-width="1.3"/><path d="M1122,780.2 H1165" stroke="#000" stroke-width="1.3"/><path d="M1122,940.2 H1165" stroke="#000" stroke-width="1.3"/><path d="M1122,1100.2 H1165" stroke="#000" stroke-width="1.3"/><path d="M1122,1260.2 H1165" stroke="#000" stroke-width="1.3"/><path d="M1122,1420.2 H1165" stroke="#000" stroke-width="1.3"/><path d="M1158,1580 H1165" stroke="#000" stroke-width="1.3"/><path d="M160,1580 V1587" stroke="#000" stroke-width="1.8"/><path d="M400,1580 V1587" stroke="#000" stroke-width="1.8"/><path d="M640,1580 V1587" stroke="#000" stroke-width="1.8"/><path d="M880,1580 V1587" stroke="#000" stroke-width="1.8"/><path d="M1120,1580 V1587" stroke="#000" stroke-width="1.8"/><path d="M153,140 H160" stroke="#000" stroke-width="1.8"/><path d="M153,500 H160" stroke="#000" stroke-width="1.8"/><path d="M153,860 H160" stroke="#000" stroke-width="1.8"/><path d="M153,1220 H160" stroke="#000" stroke-width="1.8"/><path d="M153,1580 H160" stroke="#000" stroke-width="1.8"/>
<rect x="160" y="140" width="960" height="1440" fill="none" stroke="#000" stroke-width="1.9"/>
</svg>
<div class="t" style="left:369px;top:14px;font-size:37.5px;letter-spacing:0px;transform:scale(1.0035,1.1)">Total Precipitation (mm)</div><div class="t" style="left:109.5px;top:56px;font-size:37.5px;letter-spacing:0px;transform:scale(1.0035,1.1)">ARPEGE 0.1&ordm; Forecast: Saturday 2026-04-18 T 17Z</div><div class="t" style="left:311.5px;top:98px;font-size:37.5px;letter-spacing:0px;transform:scale(1.0035,1.1)">Run 2026-04-15 T 06Z +83 hour</div><div style="position:absolute;left:335px;top:78.2px;width:19px;height:3.4px;background:#000"></div><div class="l" style="right:1113.7px;top:121.9px;font-size:38.2px;transform-origin:100% 50%;transform:scale(1.095,1)">42.5&deg;N</div><div class="l" style="right:1113.7px;top:481.9px;font-size:38.2px;transform-origin:100% 50%;transform:scale(1.095,1)">41&deg;N</div><div class="l" style="right:1113.7px;top:841.9px;font-size:38.2px;transform-origin:100% 50%;transform:scale(1.095,1)">39.5&deg;N</div><div class="l" style="right:1113.7px;top:1201.9px;font-size:38.2px;transform-origin:100% 50%;transform:scale(1.095,1)">38&deg;N</div><div class="l" style="right:1113.7px;top:1561.9px;font-size:38.2px;transform-origin:100% 50%;transform:scale(1.095,1)">36.5&deg;N</div><div class="l" style="left:59.400000000000006px;width:200px;text-align:center;top:1591px;font-size:38.2px;transform-origin:50% 0;transform:scale(1.075,1)">10&deg;W</div><div class="l" style="left:299.4px;width:200px;text-align:center;top:1591px;font-size:38.2px;transform-origin:50% 0;transform:scale(1.075,1)">9&deg;W</div><div class="l" style="left:539.4px;width:200px;text-align:center;top:1591px;font-size:38.2px;transform-origin:50% 0;transform:scale(1.075,1)">8&deg;W</div><div class="l" style="left:779.4px;width:200px;text-align:center;top:1591px;font-size:38.2px;transform-origin:50% 0;transform:scale(1.075,1)">7&deg;W</div><div class="l" style="left:1019.4px;width:200px;text-align:center;top:1591px;font-size:38.2px;transform-origin:50% 0;transform:scale(1.075,1)">6&deg;W</div><div class="l" style="left:1173px;top:281.4px;font-size:38.2px;transform-origin:0 50%;transform:scale(1.11,1)">800</div><div class="l" style="left:1173px;top:441.4px;font-size:38.2px;transform-origin:0 50%;transform:scale(1.11,1)">400</div><div class="l" style="left:1173px;top:601.4px;font-size:38.2px;transform-origin:0 50%;transform:scale(1.11,1)">200</div><div class="l" style="left:1173px;top:761.4px;font-size:38.2px;transform-origin:0 50%;transform:scale(1.11,1)">100</div><div class="l" style="left:1173px;top:921.4px;font-size:38.2px;transform-origin:0 50%;transform:scale(1.11,1)">70</div><div class="l" style="left:1173px;top:1081.4px;font-size:38.2px;transform-origin:0 50%;transform:scale(1.11,1)">50</div><div class="l" style="left:1173px;top:1241.4px;font-size:38.2px;transform-origin:0 50%;transform:scale(1.11,1)">25</div><div class="l" style="left:1173px;top:1401.4px;font-size:38.2px;transform-origin:0 50%;transform:scale(1.11,1)">10</div><div class="l" style="left:1173px;top:1561.4px;font-size:38.2px;transform-origin:0 50%;transform:scale(1.11,1)">1</div>
</body></html>
